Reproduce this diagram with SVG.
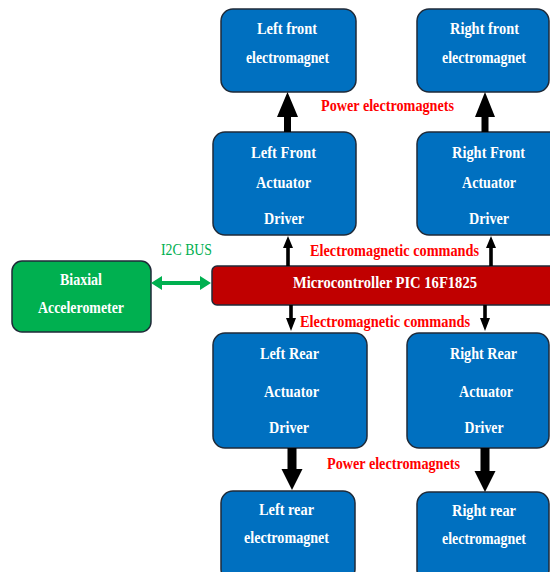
<svg xmlns="http://www.w3.org/2000/svg" width="550" height="572" viewBox="0 0 550 572">
<style>
.box{fill:#0070C0;stroke:#1F2A38;stroke-width:1.5}
.wt{font-family:"Liberation Serif","Times New Roman",serif;font-weight:bold;font-size:16px;fill:#FFFFFF;text-anchor:middle}
.rt{font-family:"Liberation Serif","Times New Roman",serif;font-weight:bold;font-size:16px;fill:#FF0000}
.gt{font-family:"Liberation Serif","Times New Roman",serif;font-size:16px;fill:#00B050}
.arr{fill:#000000}
</style>
<rect width="550" height="572" fill="#FFFFFF"/>
<g id="left-front-electromagnet">
<rect class="box" x="221" y="9" width="135" height="83" rx="12"/>
<text class="wt" x="287" y="34" textLength="60" lengthAdjust="spacingAndGlyphs">Left front</text>
<text class="wt" x="287.5" y="63" textLength="83" lengthAdjust="spacingAndGlyphs">electromagnet</text>
</g>
<g id="right-front-electromagnet">
<rect class="box" x="417" y="9" width="132" height="83" rx="12"/>
<text class="wt" x="484.5" y="34" textLength="69" lengthAdjust="spacingAndGlyphs">Right front</text>
<text class="wt" x="484" y="63" textLength="84" lengthAdjust="spacingAndGlyphs">electromagnet</text>
</g>
<g id="left-front-driver">
<rect class="box" x="213" y="132" width="143" height="103" rx="12"/>
<text class="wt" x="283.5" y="158" textLength="65" lengthAdjust="spacingAndGlyphs">Left Front</text>
<text class="wt" x="283.5" y="188" textLength="55" lengthAdjust="spacingAndGlyphs">Actuator</text>
<text class="wt" x="284" y="224" textLength="40" lengthAdjust="spacingAndGlyphs">Driver</text>
</g>
<g id="right-front-driver">
<rect class="box" x="417" y="132" width="145" height="103" rx="12"/>
<text class="wt" x="488.5" y="158" textLength="73" lengthAdjust="spacingAndGlyphs">Right Front</text>
<text class="wt" x="489" y="188" textLength="54" lengthAdjust="spacingAndGlyphs">Actuator</text>
<text class="wt" x="489" y="224" textLength="40" lengthAdjust="spacingAndGlyphs">Driver</text>
</g>
<g id="microcontroller">
<rect x="212" y="266" width="350" height="39" rx="5" fill="#C00000" stroke="#1F2A38" stroke-width="1.5"/>
<text class="wt" x="385" y="288" textLength="184" lengthAdjust="spacingAndGlyphs">Microcontroller  PIC  16F1825</text>
</g>
<g id="accelerometer">
<rect x="12" y="261" width="139" height="71" rx="10" fill="#00B050" stroke="#1F2A38" stroke-width="1.5"/>
<text class="wt" x="81" y="285" textLength="42" lengthAdjust="spacingAndGlyphs">Biaxial</text>
<text class="wt" x="81" y="313" textLength="86" lengthAdjust="spacingAndGlyphs">Accelerometer</text>
</g>
<g id="left-rear-driver">
<rect class="box" x="213" y="333" width="154" height="115" rx="12"/>
<text class="wt" x="289.5" y="359" textLength="59" lengthAdjust="spacingAndGlyphs">Left Rear</text>
<text class="wt" x="291.5" y="397" textLength="55" lengthAdjust="spacingAndGlyphs">Actuator</text>
<text class="wt" x="289" y="433" textLength="40" lengthAdjust="spacingAndGlyphs">Driver</text>
</g>
<g id="right-rear-driver">
<rect class="box" x="407" y="333" width="142" height="115" rx="12"/>
<text class="wt" x="483.5" y="359" textLength="67" lengthAdjust="spacingAndGlyphs">Right Rear</text>
<text class="wt" x="486" y="397" textLength="54" lengthAdjust="spacingAndGlyphs">Actuator</text>
<text class="wt" x="484" y="433" textLength="39" lengthAdjust="spacingAndGlyphs">Driver</text>
</g>
<g id="left-rear-electromagnet">
<rect class="box" x="221" y="491" width="134" height="90" rx="12"/>
<text class="wt" x="286.5" y="515" textLength="55" lengthAdjust="spacingAndGlyphs">Left rear</text>
<text class="wt" x="286.5" y="543" textLength="85" lengthAdjust="spacingAndGlyphs">electromagnet</text>
</g>
<g id="right-rear-electromagnet">
<rect class="box" x="417" y="492" width="132" height="90" rx="12"/>
<text class="wt" x="484" y="516" textLength="64" lengthAdjust="spacingAndGlyphs">Right rear</text>
<text class="wt" x="484" y="544" textLength="84" lengthAdjust="spacingAndGlyphs">electromagnet</text>
</g>
<g id="connectors">
<polygon class="arr" points="284,132 291,132 291,117 298,117 287.5,92 277,117 284,117"/>
<polygon class="arr" points="481.5,132 488.5,132 488.5,117 495,117 485,92 475,117 481.5,117"/>
<polygon class="arr" points="286.2,266 289.8,266 289.8,248 293,248 288,236 283,248 286.2,248"/>
<polygon class="arr" points="489.2,266 492.8,266 492.8,248 496,248 491,236 486,248 489.2,248"/>
<polygon class="arr" points="289.2,305 292.8,305 292.8,318 296,318 291,331 286,318 289.2,318"/>
<polygon class="arr" points="483.2,305 486.8,305 486.8,318 490,318 485,331 480,318 483.2,318"/>
<polygon class="arr" points="287.5,448 296.5,448 296.5,469 302.5,469 292,490 281.5,469 287.5,469"/>
<polygon class="arr" points="480.5,448 489.5,448 489.5,471 495.5,471 485,492 474.5,471 480.5,471"/>
<polygon fill="#00B050" points="151,283 162,276 162,281 200,281 200,276 211,283 200,290 200,285 162,285 162,290"/>
<text class="rt" x="321" y="111" textLength="133" lengthAdjust="spacingAndGlyphs">Power electromagnets</text>
<text class="rt" x="310" y="256" textLength="169" lengthAdjust="spacingAndGlyphs">Electromagnetic  commands</text>
<text class="rt" x="300" y="327" textLength="170" lengthAdjust="spacingAndGlyphs">Electromagnetic  commands</text>
<text class="rt" x="327" y="469" textLength="133" lengthAdjust="spacingAndGlyphs">Power electromagnets</text>
<text class="gt" x="161" y="255" textLength="51" lengthAdjust="spacingAndGlyphs">I2C BUS</text>
</g>
</svg>
